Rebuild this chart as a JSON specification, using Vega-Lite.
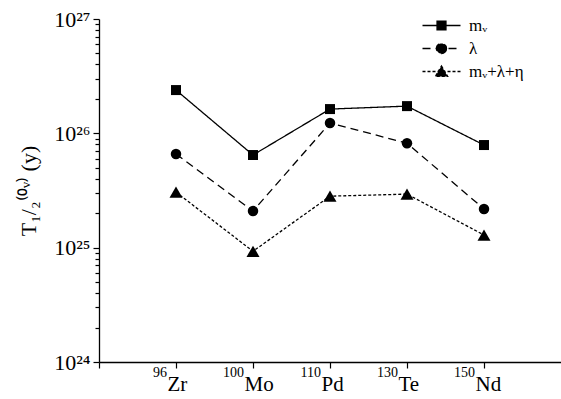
{
  "$schema": "https://vega.github.io/schema/vega-lite/v6.json",
  "width": 462,
  "height": 343,
  "autosize": "none",
  "padding": {"left": 99, "top": 19, "right": 0, "bottom": 37},
  "background": "white",
  "config": {
    "view": {"stroke": null},
    "font": "Liberation Serif",
    "axis": {"domainColor": "black", "tickColor": "black", "labelColor": "black", "titleColor": "black", "grid": false, "labelFont": "Liberation Serif", "titleFont": "Liberation Serif", "domainWidth": 1.3, "tickWidth": 1.2},
    "legend": {"labelFont": "Liberation Serif"},
    "text": {"font": "Liberation Serif"}
  },
  "datasets": {
    "halflives": [
      {"n": 1, "series": "mᵥ", "T": 2.39e26},
      {"n": 2, "series": "mᵥ", "T": 6.46e25},
      {"n": 3, "series": "mᵥ", "T": 1.63e26},
      {"n": 4, "series": "mᵥ", "T": 1.73e26},
      {"n": 5, "series": "mᵥ", "T": 7.9e25},
      {"n": 1, "series": "λ", "T": 6.6e25},
      {"n": 2, "series": "λ", "T": 2.09e25},
      {"n": 3, "series": "λ", "T": 1.23e26},
      {"n": 4, "series": "λ", "T": 8.2e25},
      {"n": 5, "series": "λ", "T": 2.18e25},
      {"n": 1, "series": "mᵥ+λ+η", "T": 3.06e25},
      {"n": 2, "series": "mᵥ+λ+η", "T": 9.3e24},
      {"n": 3, "series": "mᵥ+λ+η", "T": 2.82e25},
      {"n": 4, "series": "mᵥ+λ+η", "T": 2.94e25},
      {"n": 5, "series": "mᵥ+λ+η", "T": 1.29e25}
    ],
    "nuclei": [
      {"n": 1, "mass": "96", "el": "Zr", "T": 1e24},
      {"n": 2, "mass": "100", "el": "Mo", "T": 1e24},
      {"n": 3, "mass": "110", "el": "Pd", "T": 1e24},
      {"n": 4, "mass": "130", "el": "Te", "T": 1e24},
      {"n": 5, "mass": "150", "el": "Nd", "T": 1e24}
    ]
  },
  "layer": [
    {
      "data": {"name": "halflives"},
      "mark": {"type": "line", "color": "black", "strokeWidth": 1.3},
      "encoding": {
        "x": {
          "field": "n", "type": "quantitative",
          "scale": {"domain": [0, 6], "nice": false, "zero": false},
          "axis": {
            "title": null,
            "values": [0, 1, 2, 3, 4, 5],
            "labelExpr": "['', 'Zr', 'Mo', 'Pd', 'Te', 'Nd'][datum.value]",
            "labelFontSize": 21,
            "labelAlign": "left",
            "labelOffset": -9,
            "labelPadding": 5,
            "tickSize": 6,
            "labelOverlap": false,
            "labelBound": false
          }
        },
        "y": {
          "field": "T", "type": "quantitative",
          "scale": {"type": "log", "domain": [1e24, 1e27], "nice": false},
          "axis": {
            "title": "T₁/₂⁽⁰ᵛ⁾ (y)",
            "titleFontSize": 22,
            "titleFontWeight": "normal",
            "titlePadding": 13,
            "values": [1e24, 2e24, 3e24, 4e24, 5e24, 6e24, 7e24, 8e24, 9e24, 1e25, 2e25, 3e25, 4e25, 5e25, 6e25, 7e25, 8e25, 9e25, 1e26, 2e26, 3e26, 4e26, 5e26, 6e26, 7e26, 8e26, 9e26, 1e27],
            "labelExpr": "abs(log(datum.value)/LN10 - round(log(datum.value)/LN10)) < 0.01 ? ['10²⁴','10²⁵','10²⁶','10²⁷'][round(log(datum.value)/LN10)-24] : ''",
            "labelFontSize": 22,
            "labelPadding": 3,
            "labelOverlap": false,
            "tickSize": {"condition": {"test": "abs(log(datum.value)/LN10 - round(log(datum.value)/LN10)) < 0.01", "value": 6}, "value": 4}
          }
        },
        "strokeDash": {
          "field": "series", "type": "nominal",
          "scale": {"domain": ["mᵥ", "λ", "mᵥ+λ+η"], "range": [[1, 0], [8, 5], [3, 2]]},
          "legend": {
            "title": null,
            "orient": "none",
            "legendX": 332,
            "legendY": -4,
            "padding": 0,
            "symbolSize": 361,
            "symbolStrokeWidth": 1.3,
            "symbolStrokeColor": "black",
            "symbolFillColor": "black",
            "labelFontSize": 17,
            "labelOffset": 17,
            "rowPadding": 4,
            "encode": {
              "symbols": {
                "update": {
                  "shape": {"signal": "datum.value === 'λ' ? 'M-2,0H2M0.53,0A0.53,0.53 0 1 1 -0.53,0A0.53,0.53 0 1 1 0.53,0Z' : (datum.value === 'mᵥ' ? 'M-2,0H2M-0.47,-0.47H0.47V0.47H-0.47Z' : 'M-2,0H2M0,-0.58L0.65,0.52L-0.65,0.52Z')"},
                  "fill": {"value": "black"},
                  "stroke": {"value": "black"}
                }
              }
            }
          }
        }
      }
    },
    {
      "data": {"name": "halflives"},
      "transform": [{"filter": "datum.series === 'mᵥ'"}],
      "mark": {"type": "point", "shape": "square", "filled": true, "color": "black", "opacity": 1, "size": 100},
      "encoding": {"x": {"field": "n", "type": "quantitative"}, "y": {"field": "T", "type": "quantitative"}}
    },
    {
      "data": {"name": "halflives"},
      "transform": [{"filter": "datum.series === 'λ'"}],
      "mark": {"type": "point", "shape": "circle", "filled": true, "color": "black", "opacity": 1, "size": 110},
      "encoding": {"x": {"field": "n", "type": "quantitative"}, "y": {"field": "T", "type": "quantitative"}}
    },
    {
      "data": {"name": "halflives"},
      "transform": [{"filter": "datum.series === 'mᵥ+λ+η'"}],
      "mark": {"type": "point", "shape": "triangle-up", "filled": true, "color": "black", "opacity": 1, "size": 169},
      "encoding": {"x": {"field": "n", "type": "quantitative"}, "y": {"field": "T", "type": "quantitative"}}
    },
    {
      "data": {"name": "nuclei"},
      "mark": {"type": "text", "align": "right", "baseline": "alphabetic", "dx": -9, "dy": 15, "fontSize": 14, "color": "black"},
      "encoding": {
        "x": {"field": "n", "type": "quantitative"},
        "y": {"field": "T", "type": "quantitative"},
        "text": {"field": "mass", "type": "nominal"}
      }
    }
  ]
}
